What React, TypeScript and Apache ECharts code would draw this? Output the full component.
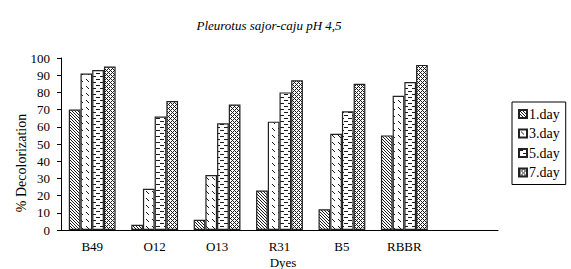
import React, { useEffect, useRef } from "react";
import * as echarts from "echarts";

const categories = ["B49", "O12", "O13", "R31", "B5", "RBBR", ""];
const seriesNames = ["1.day", "3.day", "5.day", "7.day"];
const day1 = [70, 3, 6, 23, 12, 55];
const day3 = [91, 24, 32, 63, 56, 78];
const day5 = [93, 66, 62, 80, 69, 86];
const day7 = [95, 75, 73, 87, 85, 96];
const yTicks = [0, 10, 20, 30, 40, 50, 60, 70, 80, 90, 100];

const FONT = "'Liberation Serif', 'Times New Roman', serif";

function makePattern(w: number, h: number, on: (x: number, y: number) => boolean) {
  const c = document.createElement("canvas");
  c.width = w;
  c.height = h;
  const ctx = c.getContext("2d")!;
  ctx.fillStyle = "#ffffff";
  ctx.fillRect(0, 0, w, h);
  ctx.fillStyle = "#1a1a1a";
  for (let y = 0; y < h; y++) {
    for (let x = 0; x < w; x++) {
      if (on(x, y)) ctx.fillRect(x, y, 1, 1);
    }
  }
  return { image: c.toDataURL(), repeat: "repeat", imageWidth: w, imageHeight: h } as any;
}

export default function App() {
  const ref = useRef<HTMLDivElement>(null);
  useEffect(() => {
    document.body.style.margin = "0";
    if (!ref.current) return;
    const chart = echarts.init(ref.current, null, { renderer: "svg" });
    const p1 = makePattern(3, 3, (x, y) => (x - y + 3) % 3 === 0);
    const p3 = makePattern(6, 7, (x, y) => (x === 2 && y === 2) || (x === 3 && y === 3) || (x === 4 && y === 4));
    const p5 = makePattern(8, 6, (x, y) => (y === 1 && x >= 0 && x < 4) || (y === 4 && x >= 4 && x < 8));
    const p7 = makePattern(4, 4, (x, y) => (x - y + 4) % 4 === 0 || (x + y) % 4 === 0);
    const patterns = [p1, p3, p5, p7];
    const data = [day1, day3, day5, day7];

    chart.setOption({
      animation: false,
      grid: { left: 61, right: 73, top: 58, bottom: 39, containLabel: false },
      title: {
        text: "Pleurotus sajor-caju pH 4,5",
        left: 264,
        top: 14,
        textAlign: "center",
        textStyle: { fontFamily: FONT, fontStyle: "italic", fontWeight: "normal", fontSize: 13, color: "#000" },
      },
      legend: {
        orient: "vertical",
        left: 512,
        top: 102,
        data: seriesNames,
        itemWidth: 8,
        itemHeight: 8,
        itemGap: 5.5,
        icon: "rect",
        padding: [5, 6, 5, 6],
        borderColor: "#000",
        borderWidth: 1,
        selectedMode: false,
        textStyle: { fontFamily: FONT, fontSize: 14, color: "#000", lineHeight: 14, padding: [0, 0, 0, -3] },
      },
      xAxis: {
        type: "category",
        data: categories,
        axisLine: { lineStyle: { color: "#000", width: 1 } },
        axisTick: { alignWithLabel: false, length: 4, lineStyle: { color: "#000" } },
        axisLabel: { fontFamily: FONT, fontSize: 13, color: "#000", margin: 10 },
        splitLine: { show: false },
      },
      yAxis: {
        type: "value",
        min: yTicks[0],
        max: yTicks[yTicks.length - 1],
        interval: 10,
        axisLine: { show: true, lineStyle: { color: "#000", width: 1 } },
        axisTick: { show: true, length: 4, lineStyle: { color: "#000" } },
        axisLabel: { fontFamily: FONT, fontSize: 13, color: "#000", margin: 11 },
        splitLine: { show: false },
      },
      graphic: [
        {
          type: "text",
          x: 283,
          y: 262,
          style: { text: "Dyes", font: `13px ${FONT}`, fill: "#000", textAlign: "center", textVerticalAlign: "middle" },
        },
        {
          type: "text",
          x: 21,
          y: 163,
          rotation: Math.PI / 2,
          style: { text: "% Decolorization", font: `14px ${FONT}`, fill: "#000", textAlign: "center", textVerticalAlign: "middle" },
        },
      ],
      series: seriesNames.map((name, i) => ({
        name,
        type: "bar",
        data: data[i],
        barGap: "0%",
        barCategoryGap: "25%",
        itemStyle: { color: patterns[i], borderColor: "#222", borderWidth: 1.2 },
      })),
    });
    return () => chart.dispose();
  }, []);
  return <div ref={ref} style={{ width: 571, height: 269 }} />;
}
